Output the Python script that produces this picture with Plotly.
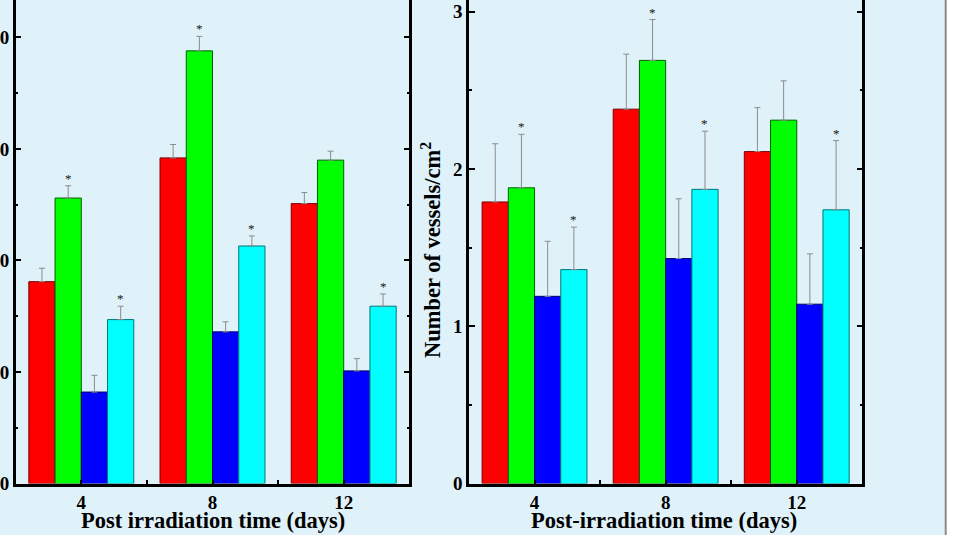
import plotly.graph_objects as go

# ---------------- data ----------------
days = [4, 8, 12]
series_names = ["Group A", "Group B", "Group C", "Group D"]
series_colors = ["#ff0000", "#00ff00", "#0000ff", "#00ffff"]
series_edges = ["#7a0000", "#006000", "#00006e", "#007878"]

# left panel (value units; ticks 10..40)
left_red = [18.1, 29.2, 25.1]
left_green = [25.6, 38.8, 29.0]
left_blue = [8.2, 13.6, 10.1]
left_cyan = [14.7, 21.3, 15.9]
left_red_err = [1.2, 1.2, 1.0]
left_green_err = [1.1, 1.3, 0.8]
left_blue_err = [1.5, 0.9, 1.1]
left_cyan_err = [1.2, 0.9, 1.1]

# right panel: number of vessels / cm^2
right_red = [1.79, 2.38, 2.11]
right_green = [1.88, 2.69, 2.31]
right_blue = [1.19, 1.43, 1.14]
right_cyan = [1.36, 1.87, 1.74]
right_red_err = [0.37, 0.35, 0.28]
right_green_err = [0.34, 0.26, 0.25]
right_blue_err = [0.35, 0.38, 0.32]
right_cyan_err = [0.27, 0.37, 0.44]

# significance stars: (series index, day index)
stars = [(1, 0), (3, 0), (1, 1), (3, 1), (3, 2)]

left_ticks = [0, 10, 20, 30, 40]
right_ticks = [0, 1, 2, 3]
x_title_left = "Post irradiation time (days)"
x_title_right = "Post-irradiation time (days)"
y_title_right = "Number of vessels/cm<sup>2</sup>"

# ---------------- figure ----------------
W, H = 969, 535
FONT = "Liberation Serif"

fig = go.Figure()

left_vals = [left_red, left_green, left_blue, left_cyan]
left_errs = [left_red_err, left_green_err, left_blue_err, left_cyan_err]
right_vals = [right_red, right_green, right_blue, right_cyan]
right_errs = [right_red_err, right_green_err, right_blue_err, right_cyan_err]


def add_panel(vals, errs, xa, ya):
    for i in range(4):
        fig.add_trace(go.Bar(
            x=days, y=vals[i], name=series_names[i], showlegend=False,
            marker=dict(color=series_colors[i],
                        line=dict(color=series_edges[i], width=1)),
            error_y=dict(type="data", array=errs[i], arrayminus=[0] * 3,
                         symmetric=False, color="#8c8c8c", thickness=1,
                         width=3),
            xaxis=xa, yaxis=ya, offsetgroup=str(i),
        ))


add_panel(left_vals, left_errs, "x", "y")
add_panel(right_vals, right_errs, "x2", "y2")

# stars
bar_w = 0.8
for vals, errs, xr, yr in [(left_vals, left_errs, "x", "y"),
                           (right_vals, right_errs, "x2", "y2")]:
    for si, di in stars:
        xpos = days[di] + (si - 1.5) * bar_w
        ypos = vals[si][di] + errs[si][di]
        fig.add_annotation(x=xpos, y=ypos, xref=xr, yref=yr, text="*",
                           showarrow=False, yanchor="bottom", yshift=-2,
                           font=dict(family=FONT, size=13, color="#111111"))

y0 = (H - 483.5) / H
axis_common = dict(showline=True, linecolor="black", linewidth=2.5,
                   ticks="inside", tickcolor="black", tickwidth=2,
                   showgrid=False, zeroline=False, automargin=False,
                   tickfont=dict(family=FONT, size=19, color="black",
                                 weight="bold"))

fig.update_layout(
    width=W, height=H,
    margin=dict(l=0, r=0, t=0, b=0, autoexpand=False),
    paper_bgcolor="white", plot_bgcolor="rgba(0,0,0,0)",
    barmode="group", bargap=0.2, bargroupgap=0,
    xaxis=dict(domain=[15.7 / W, 409.3 / W], range=[2, 14],
               tickvals=days, ticklen=4,
               minor=dict(tickvals=[6, 10], ticks="inside", ticklen=4,
                          tickwidth=2, tickcolor="black"),
               anchor="y", **axis_common),
    yaxis=dict(domain=[y0, 1], range=[0, 43.36], tickvals=left_ticks,
               ticktext=[str(t) for t in left_ticks], ticklen=6,
               mirror="ticks",
               minor=dict(dtick=5, ticks="inside", ticklen=3, tickwidth=2,
                          tickcolor="black"),
               anchor="x", **axis_common),
    xaxis2=dict(domain=[469 / W, 862.3 / W], range=[2, 14],
                tickvals=days, ticklen=4,
                minor=dict(tickvals=[6, 10], ticks="inside", ticklen=4,
                           tickwidth=2, tickcolor="black"),
                anchor="y2", **axis_common),
    yaxis2=dict(domain=[y0, 1], range=[0, 3.074], tickvals=right_ticks,
                ticklen=6, mirror="ticks",
                minor=dict(dtick=0.5, ticks="inside", ticklen=3, tickwidth=2,
                           tickcolor="black"),
                anchor="x2", **axis_common),
)

# background panel
fig.add_shape(type="rect", xref="paper", yref="paper",
              x0=-0.05, x1=945.7 / W, y0=-0.05, y1=1.05,
              fillcolor="#dff1f9", line=dict(color="#8a8a8a", width=2),
              layer="below")

title_font = dict(family=FONT, size=22.5, color="black", weight="bold")
fig.add_annotation(x=213 / W, y=(H - 520) / H, xref="paper", yref="paper",
                   text=x_title_left, showarrow=False, font=title_font,
                   xanchor="center", yanchor="middle")
fig.add_annotation(x=664 / W, y=(H - 520) / H, xref="paper", yref="paper",
                   text=x_title_right, showarrow=False, font=title_font,
                   xanchor="center", yanchor="middle")
fig.add_annotation(x=431 / W, y=(H - 250) / H, xref="paper", yref="paper",
                   text=y_title_right, showarrow=False, font=title_font,
                   textangle=-90, xanchor="center", yanchor="middle")

fig.write_html("out.html")
